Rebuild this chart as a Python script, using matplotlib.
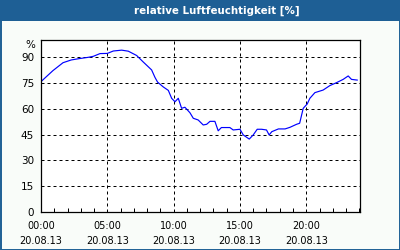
import matplotlib
matplotlib.use("Agg")
import matplotlib.pyplot as plt
from matplotlib.patches import Rectangle
from matplotlib.ticker import MultipleLocator, FixedLocator

title = "relative Luftfeuchtigkeit [%]"
hours = [0, 0.9, 1.66, 2.28, 2.9, 3.54, 3.94, 4.45, 5.0, 5.45, 6.08, 6.58, 7.21, 7.71,
         8.34, 8.59, 8.79, 9.22, 9.6, 9.85, 10.1, 10.35, 10.6, 10.85, 11.23, 11.48, 11.85,
         12.23, 12.49, 12.74, 13.11, 13.36, 13.6, 14.24, 14.49, 15.0, 15.25, 15.7, 16.0,
         16.3, 16.63, 17.0, 17.2, 17.4, 17.9, 18.4, 18.76, 19.27, 19.5, 19.77, 20.07,
         20.27, 20.65, 21.27, 21.78, 22.28, 22.78, 23.16, 23.41, 23.84]
humidity = [75.8, 82.2, 86.8, 88.4, 89.2, 89.9, 90.5, 92.1, 92.2, 93.6, 94.1, 93.5, 91.0,
            87.2, 82.6, 78.3, 75.5, 72.7, 70.7, 66.1, 64.1, 66.1, 60.3, 60.9, 57.7, 54.5,
            53.5, 50.6, 51.0, 52.7, 52.7, 47.2, 49.1, 49.1, 47.7, 48.1, 44.8, 42.4, 44.8,
            48.1, 48.1, 47.7, 44.8, 46.7, 48.3, 48.3, 49.2, 51.0, 51.6, 60.3, 62.8, 66.1,
            69.4, 70.9, 73.5, 75.2, 77.1, 79.1, 77.1, 76.7]
x_ticks = [0, 5, 10, 15, 20]
x_labels = ["00:00\n20.08.13", "05:00\n20.08.13", "10:00\n20.08.13",
            "15:00\n20.08.13", "20:00\n20.08.13"]
y_ticks = [0, 15, 30, 45, 60, 75, 90]

blue = "#1e5f95"
bg = "#f9fcf9"
W, H = 400, 250
fig = plt.figure(figsize=(4, 2.5), dpi=100, facecolor=bg)

# title bar and border
fig.patches.append(Rectangle((0, 1 - 20.5 / H), 1, 20.5 / H, transform=fig.transFigure,
                             facecolor=blue, edgecolor="none", zorder=0))
fig.patches.append(Rectangle((0.5 / W, 0.5 / H), 1 - 1 / W, 1 - 1 / H, transform=fig.transFigure,
                             facecolor="none", edgecolor=blue, lw=1.4, zorder=1))
fig.text(217 / W, 1 - 10.5 / H, title, color="white", fontsize=7.4, fontweight="bold",
         ha="center", va="center")

ax = fig.add_axes([41 / W, (H - 212) / H, (360 - 41) / W, (212 - 40) / H])
ax.set_facecolor("white")
ax.plot(hours, humidity, color="#0000ff", lw=0.85)
ax.set_xlim(0, 24.05)
ax.set_ylim(0, 100)

ax.xaxis.set_major_locator(FixedLocator(x_ticks))
ax.set_xticklabels(x_labels, fontsize=7, linespacing=1.6)
ax.xaxis.set_minor_locator(MultipleLocator(1))
ax.tick_params(axis="x", which="minor", direction="in", length=2.6, width=0.72)
ax.tick_params(axis="x", which="major", direction="in", length=0, pad=6.5)
ax.set_yticks(y_ticks)
ax.set_yticklabels([str(v) for v in y_ticks], fontsize=7.5)
ax.tick_params(axis="y", length=0, pad=5)
ax.text(-0.018, 97, "%", transform=ax.get_yaxis_transform(), ha="right", va="center",
        fontsize=7.5)

for v in y_ticks[1:]:
    ax.axhline(v, color="black", lw=0.72, ls=(0, (3, 3)), zorder=0.5)
for h in x_ticks[1:]:
    ax.axvline(h, color="black", lw=0.72, ls=(0, (3, 3)), zorder=0.5)
for s in ax.spines.values():
    s.set_linewidth(0.9)

fig.savefig("out.png", dpi=100, facecolor=bg)
